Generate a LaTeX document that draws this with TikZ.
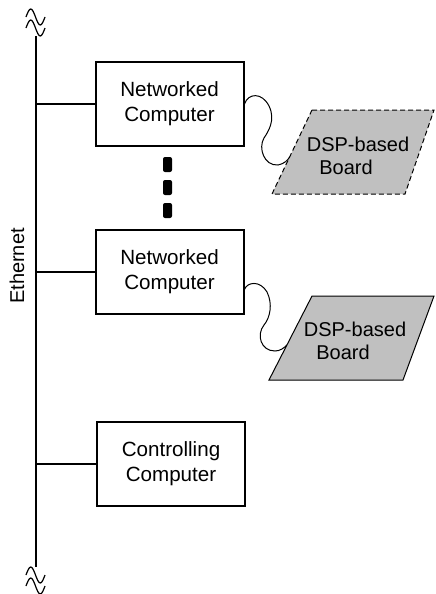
\documentclass[tikz,border=0pt]{standalone}
\usepackage{fontspec}
\setmainfont{Liberation Sans}
\usetikzlibrary{calc}
\definecolor{boardgray}{RGB}{192,192,192}

\begin{document}
\begin{tikzpicture}[x=0.5pt,y=-0.5pt,
  compbox/.style={draw,line width=1pt,minimum width=74pt,minimum height=42pt,
    align=center,font=\fontsize{10.3}{12.5}\selectfont},
  boardshape/.style={draw,fill=boardgray,line width=0.5pt},
  boardtext/.style={inner sep=0pt,align=center,font=\fontsize{10}{11.5}\selectfont},
  bus/.style={line width=1pt},
  cable/.style={line width=0.5pt},
  breakmark/.style={line width=0.6pt},
  dotmark/.style={fill,rectangle,rounded corners=1pt,minimum width=4.5pt,
    minimum height=7.5pt,inner sep=0pt}]
\useasboundingbox (0,0) rectangle (435,594);

% Ethernet bus
\coordinate (ethtop) at (36,36);
\coordinate (ethbot) at (36,567);
\draw[bus] (ethtop) -- (ethbot);
\node[rotate=90,font=\fontsize{10}{12}\selectfont] (ethlabel) at (17,266) {Ethernet};

% break marks at both ends
\foreach \yc in {17,28}
  \draw[breakmark] (26,\yc) sin (30.75,\yc-8) cos (35.5,\yc) sin (40.25,\yc+8) cos (45,\yc);
\foreach \yc in {575,586}
  \draw[breakmark] (26,\yc) sin (30.75,\yc-8) cos (35.5,\yc) sin (40.25,\yc+8) cos (45,\yc);

% computers
\node[compbox] (net1) at (169.5,104) {Networked\\Computer};
\node[compbox] (net2) at (169.5,271.5) {Networked\\Computer};
\node[compbox] (ctrl) at (171,463.5) {Controlling\\Computer};

\draw[bus] (net1.west) -- (net1.west -| ethtop);
\draw[bus] (net2.west) -- (net2.west -| ethtop);
\draw[bus] (ctrl.west) -- (ctrl.west -| ethtop);

% dots between the computers
\foreach \y [count=\i] in {164.5,187.5,210.5}
  \node[dotmark] (dot\i) at (167.5,\y) {};

% DSP boards
\draw[boardshape,dashed,dash pattern=on 2.5pt off 1.5pt]
  (312,110) -- (434,110) -- (405,194) -- (272,194) -- cycle;
\node[boardtext] (dsp1) at (358,156) {DSP-based\\Board\hspace*{12pt}};
\coordinate (dsp1in) at (289.6,157);

\draw[boardshape] (312,296) -- (434,296) -- (403,380) -- (269,380) -- cycle;
\node[boardtext] (dsp2) at (355,341) {DSP-based\\Board\hspace*{12pt}};
\coordinate (dsp2in) at (286.9,345);

% cables
\draw[cable] (net1.east) .. controls (248,93) and (262,92) .. (269,106)
  .. controls (276,120) and (268,132) .. (264,138)
  .. controls (258,148) and (264,166) .. (278,165)
  .. controls (284,164) and (288,160) .. (dsp1in);
\draw[cable] ([yshift=-9pt]net2.east) .. controls (247,282) and (260,280) .. (267,292)
  .. controls (273,304) and (270,318) .. (264,325)
  .. controls (256,335) and (261,351) .. (275,351)
  .. controls (280,351) and (284,348) .. (dsp2in);
\end{tikzpicture}
\end{document}
